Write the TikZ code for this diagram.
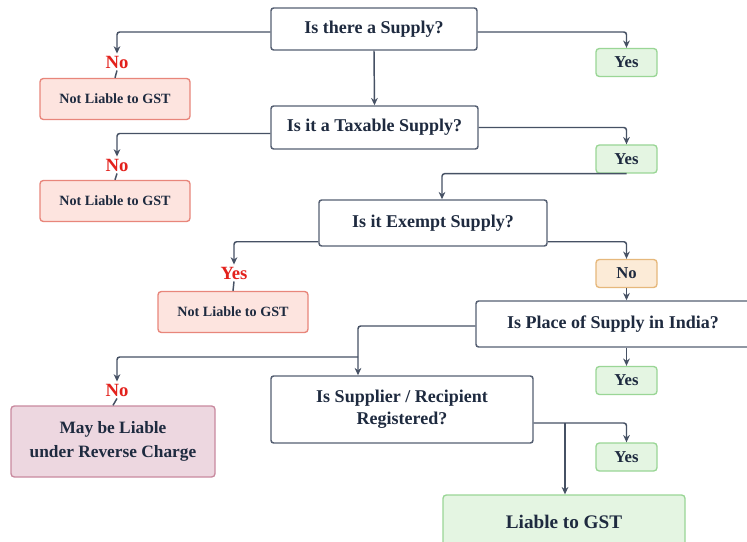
\documentclass[tikz,border=0pt]{standalone}
\usepackage{fontspec}
\setmainfont{Liberation Serif}
\usetikzlibrary{calc,positioning,arrows.meta}
\definecolor{gstline}{HTML}{465164}
\definecolor{gsttext}{HTML}{1E2A3F}
\definecolor{gstqdraw}{HTML}{566073}
\definecolor{gstnofill}{HTML}{FDE4DF}
\definecolor{gstnodraw}{HTML}{E8867B}
\definecolor{gstyesfill}{HTML}{E4F5E2}
\definecolor{gstyesdraw}{HTML}{9AD696}
\definecolor{gstorfill}{HTML}{FCEBD7}
\definecolor{gstordraw}{HTML}{E6B87C}
\definecolor{gstrcfill}{HTML}{EDD7E0}
\definecolor{gstrcdraw}{HTML}{C98A9F}
\definecolor{gstred}{HTML}{E3211C}

\begin{document}
\begin{tikzpicture}[x=0.75pt, y=-0.75pt, text=gsttext,
  qbox/.style={draw=gstqdraw, line width=1.1pt, fill=white, rounded corners=2pt,
    align=center, inner sep=0pt, font=\fontsize{13.5}{16.5}\selectfont\bfseries},
  notbox/.style={draw=gstnodraw, line width=1pt, fill=gstnofill, rounded corners=2.5pt,
    minimum width=112.5pt, minimum height=30.75pt, inner sep=0pt,
    font=\fontsize{10.6}{12}\selectfont\bfseries},
  yesbox/.style={draw=gstyesdraw, line width=1pt, fill=gstyesfill, rounded corners=2.5pt,
    minimum width=45.75pt, minimum height=21pt, inner sep=0pt,
    font=\fontsize{12.5}{14}\selectfont\bfseries},
  redlabel/.style={text=gstred, inner sep=1.5pt, font=\fontsize{14}{16}\selectfont\bfseries},
  arr/.style={draw=gstline, line width=1.1pt, rounded corners=2pt,
    -{Stealth[length=5.5pt, width=5pt]}},
  link/.style={draw=gstline, line width=1.1pt}]
  \clip (0,0) rectangle (747,542);
  \fill[white] (0,0) rectangle (747,542);

  % questions
  \node[qbox, minimum width=154.5pt, minimum height=31.5pt] (q1) at (374,29) {Is there a Supply?};
  \node[qbox, minimum width=155.25pt, minimum height=32.25pt] (q2) at (374.5,127.5) {Is it a Taxable Supply?};
  \node[qbox, minimum width=171pt, minimum height=34.5pt] (q3) at (433,223) {Is it Exempt Supply?};
  \node[qbox, minimum width=205.5pt, minimum height=34.5pt] (q4) at (613,324) {Is Place of Supply in India?};
  \node[qbox, minimum width=196.5pt, minimum height=50.25pt] (q5) at (402,409.5) {Is Supplier / Recipient\\Registered?};

  % outcomes
  \node[notbox] (nl1) at (115,99) {Not Liable to GST};
  \node[notbox] (nl2) at (115,201) {Not Liable to GST};
  \node[notbox] (nl3) at (233,312) {Not Liable to GST};
  \node[yesbox] (yes1) at (626.5,62.5) {Yes};
  \node[yesbox] (yes2) at (626.5,159) {Yes};
  \node[yesbox, draw=gstordraw, fill=gstorfill] (noo) at (626.5,273.5) {No};
  \node[yesbox] (yes5) at (626.5,380.5) {Yes};
  \node[yesbox] (yes6) at (626.5,457) {Yes};
  \node[draw=gstrcdraw, line width=1pt, fill=gstrcfill, rounded corners=2.5pt,
    minimum width=153pt, minimum height=53.25pt, inner sep=0pt, align=center,
    font=\fontsize{13}{18}\selectfont\bfseries] (mayrc) at (113,441.5) {May be Liable\\under Reverse Charge};
  \node[draw=gstyesdraw, line width=1pt, fill=gstyesfill, rounded corners=2.5pt,
    minimum width=181.5pt, minimum height=40.5pt, inner sep=0pt,
    font=\fontsize{14.4}{16}\selectfont\bfseries] (liable) at (564,522) {Liable to GST};

  % branch labels
  \node[redlabel] (no1) at (117,62) {No};
  \node[redlabel] (no2) at (117,165) {No};
  \node[redlabel] (yes3) at (234,273) {Yes};
  \node[redlabel] (no4) at (117,390) {No};

  \coordinate (split) at (358,357);
  \coordinate (fork) at (565,423);

  % connectors
  \draw[arr] ($(q1.west)+(0,3)$) -| (no1.north);
  \draw[link] (no1.south) -- (nl1.north);
  \draw[arr] ($(q1.east)+(0,3)$) -| (yes1.north);
  \draw[arr] (q1.south) -- (q2.north);
  \draw[arr] ($(q2.west)+(0,6)$) -| (no2.north);
  \draw[link] (no2.south) -- (nl2.north);
  \draw[arr] (q2.east) -| (yes2.north);
  \draw[arr] (yes2.south) -| ([xshift=6.75pt]q3.north);
  \draw[arr] ($(q3.south west)+(0,-5)$) -| (yes3.north);
  \draw[link] (yes3.south) -- (nl3.north);
  \draw[arr] ($(q3.south east)+(0,-5)$) -| (noo.north);
  \draw[arr] (noo.south) -- (noo.south |- q4.north);
  \draw[arr] (yes5.north |- q4.south) -- (yes5.north);
  \draw[arr] ($(q4.west)+(0,2)$) -| (split) -- (split |- q5.north);
  \draw[arr] (split) -| (no4.north);
  \draw[link] (no4.south) -- (mayrc.north);
  \draw[arr] (q5.east |- fork) -| (yes6.north);
  \draw[arr] (fork) -- (fork |- liable.north);
\end{tikzpicture}
\end{document}
